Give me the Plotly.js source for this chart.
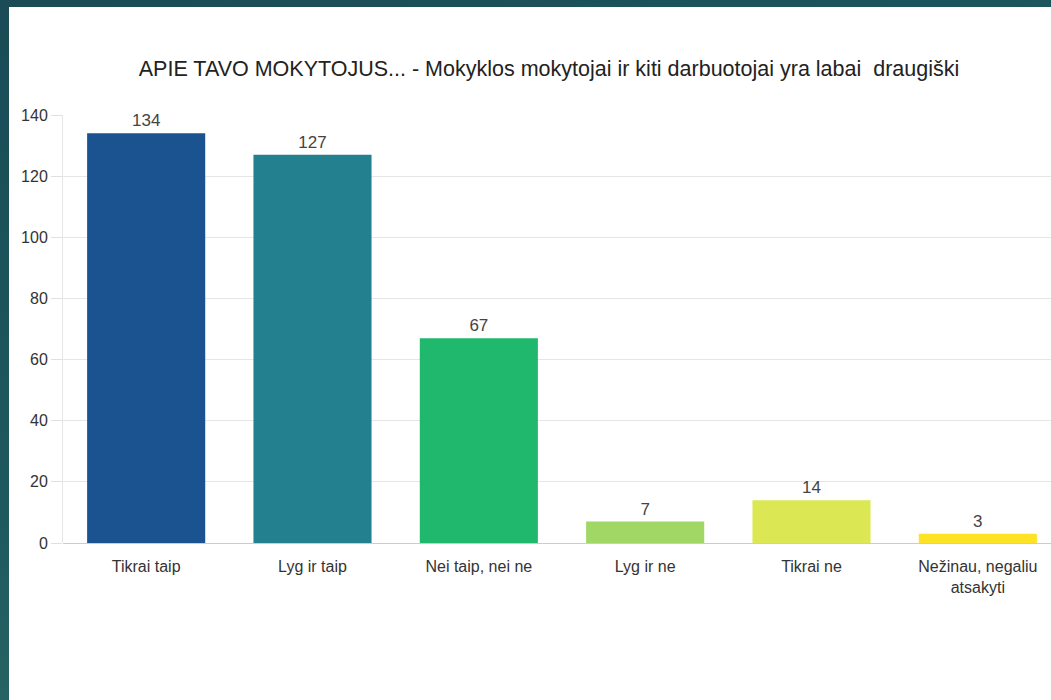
<!DOCTYPE html>
<html>
<head>
<meta charset="utf-8">
<script src="https://cdn.plot.ly/plotly-3.0.1.min.js"></script>
<style>
  html, body { margin: 0; padding: 0; width: 1051px; height: 700px; overflow: hidden;
    background: linear-gradient(160deg, #1a4b56 0%, #1e5a5f 50%, #3c786f 100%); }
  #chart { position: absolute; left: 9px; top: 7px; width: 1080px; height: 693px; }
</style>
</head>
<body>
<div id="chart"></div>
<script>
const categories = ["Tikrai taip", "Lyg ir taip", "Nei taip, nei ne", "Lyg ir ne", "Tikrai ne", "Nežinau, negaliu<br>atsakyti"];
const values = [134, 127, 67, 7, 14, 3];
const barColors = ["#1b5391", "#23808f", "#1fb86c", "#a0d765", "#dbe853", "#fde225"];
const yTicks = [0, 20, 40, 60, 80, 100, 120, 140];
const chartTitle = "APIE TAVO MOKYTOJUS... - Mokyklos mokytojai ir kiti darbuotojai yra labai  draugiški";

const trace = {
  type: "bar",
  x: categories,
  y: values,
  marker: { color: barColors },
  text: values.map(String),
  textposition: "outside",
  cliponaxis: false,
  textfont: { family: "Liberation Sans, Arial, sans-serif", size: 17, color: "#444" },
  hoverinfo: "none"
};

const layout = {
  width: 1080, height: 693,
  margin: { l: 54, r: 28, t: 108, b: 157 },
  paper_bgcolor: "#ffffff",
  plot_bgcolor: "#ffffff",
  bargap: 0.29,
  showlegend: false,
  title: {
    text: chartTitle,
    font: { family: "Liberation Sans, Arial, sans-serif", size: 21.5, color: "#222" },
    x: 0.5, xref: "container", xanchor: "center",
    y: 0.912, yref: "container", yanchor: "middle"
  },
  xaxis: {
    type: "category",
    range: [-0.5, 5.5],
    showgrid: false,
    showline: false,
    zeroline: false,
    ticks: "",
    ticklabelstandoff: 12,
    tickfont: { family: "Liberation Sans, Arial, sans-serif", size: 16, color: "#333" },
    fixedrange: true
  },
  yaxis: {
    range: [0, 140],
    tickvals: yTicks,
    ticktext: yTicks.map(String),
    showgrid: true,
    gridcolor: "#e6e6e6",
    gridwidth: 1,
    zeroline: true,
    zerolinecolor: "#cccccc",
    zerolinewidth: 1,
    showline: true,
    linecolor: "#e6e6e6",
    linewidth: 1,
    ticks: "outside",
    ticklen: 11,
    tickcolor: "#e0e0e0",
    tickfont: { family: "Liberation Sans, Arial, sans-serif", size: 16, color: "#333" },
    fixedrange: true
  }
};

Plotly.newPlot("chart", [trace], layout, { displayModeBar: false, staticPlot: true });
</script>
</body>
</html>
